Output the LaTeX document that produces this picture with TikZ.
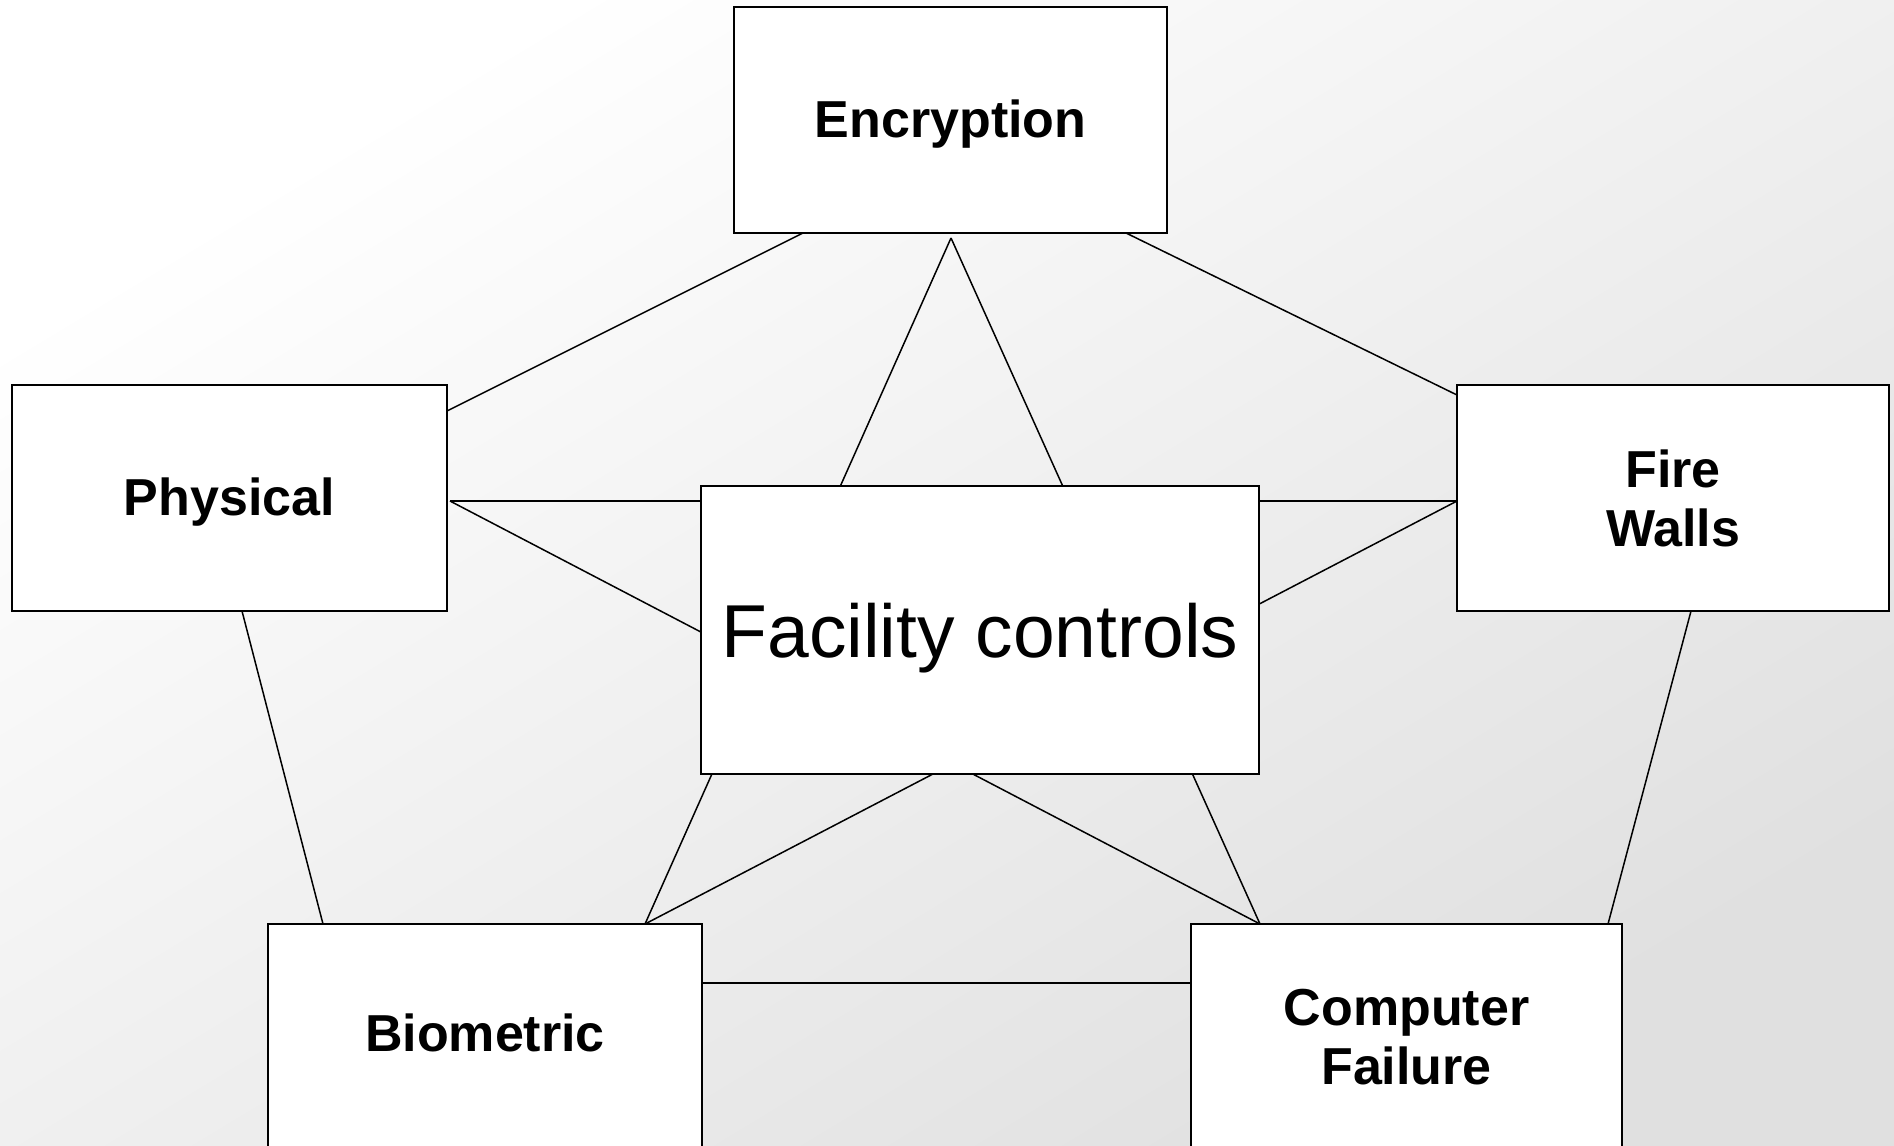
\documentclass[tikz,border=0pt]{standalone}
\usepackage{fontspec}
\setmainfont{Liberation Sans}
\pgfdeclarelayer{bg}
\pgfdeclarelayer{edges}
\pgfsetlayers{bg,edges,main}
\begin{document}
\begin{tikzpicture}[x=1pt,y=-1pt,
  box/.style={draw, fill=white, line width=1.8pt, inner sep=0pt, align=center,
    font=\fontsize{52}{59}\selectfont\bfseries, minimum height=226pt},
  oneline/.style={text height=40pt, text depth=6pt},
  link/.style={line width=1.5pt}]
\useasboundingbox (0,0) rectangle (1894,1145);
\begin{pgfonlayer}{bg}
  \begin{scope}[transform canvas={xscale=1.65415}]
    \shade[top color=white, bottom color=black!12, shading angle=45] (0,0) rectangle (1145,1145);
  \end{scope}
\end{pgfonlayer}
% boxes
\node[box, oneline, minimum width=433pt] (enc) at (950.5,120) {Encryption};
\node[box, oneline, minimum width=435pt] (phys) at (229.5,498) {Physical};
\node[box, minimum width=432pt] (fw) at (1673,498) {Fire\\Walls};
\node[box, text height=35pt, text depth=6pt, minimum width=434pt] (bio) at (485,1037) {Biometric};
\node[box, minimum width=431pt] (comp) at (1406.5,1037) {Computer\\Failure};
\node[box, minimum width=558pt, minimum height=288pt, text height=58pt, text depth=4pt,
  font=\fontsize{75}{80}\selectfont] (fac) at (980,630) {Facility controls};
% connection points
\coordinate (sT) at (951,238);
\coordinate (sL) at (450,501);
\coordinate (sR) at (1457,501);
\coordinate (sBL) at (645,924);
\coordinate (sBR) at (1260,924);
\coordinate (encA) at (803,233);
\coordinate (physA) at (447,411);
\coordinate (encB) at (1126,233);
\coordinate (fwA) at (1457,395);
\coordinate (physB) at (242,611);
\coordinate (bioA) at (323,924);
\coordinate (fwB) at (1691,611);
\coordinate (compA) at (1608,924);
\coordinate (bioB) at (702,983);
\coordinate (compB) at (1191,983);
\begin{pgfonlayer}{edges}
  % pentagon
  \draw[link] (encA) -- (physA);
  \draw[link] (encB) -- (fwA);
  \draw[link] (physB) -- (bioA);
  \draw[link] (fwB) -- (compA);
  \draw[link] (bioB) -- (compB);
  % star
  \draw[link] (sT) -- (sBL);
  \draw[link] (sT) -- (sBR);
  \draw[link] (sL) -- (sR);
  \draw[link] (sL) -- (sBR);
  \draw[link] (sR) -- (sBL);
\end{pgfonlayer}
\end{tikzpicture}
\end{document}
